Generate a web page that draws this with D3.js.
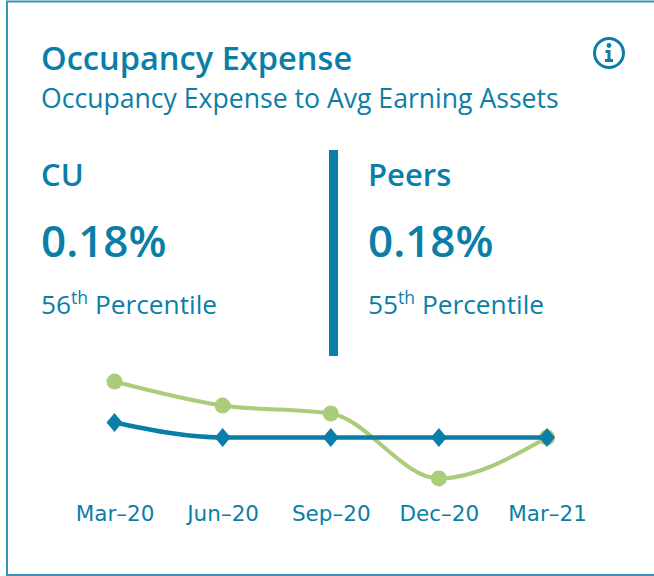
<!DOCTYPE html>
<html><head><meta charset="utf-8">
<script src="https://cdn.jsdelivr.net/npm/d3@7/dist/d3.min.js"></script>
<style>html,body{margin:0;padding:0;background:#fff;overflow:hidden}svg{display:block}</style>
</head><body><svg id="c" width="654" height="576"></svg>
<script>
const categories = ["Mar-20","Jun-20","Sep-20","Dec-20","Mar-21"];
const cuValues = [0.19,0.18,0.18,0.18,0.18];
const peerValues = [0.2173,0.2013,0.196,0.1527,0.18];
const title = "Occupancy Expense";
const subtitle = "Occupancy Expense to Avg Earning Assets";
const panels = [
 {name:"CU", value:"0.18%", rank:"56", suffix:"th", label:" Percentile", x:41},
 {name:"Peers", value:"0.18%", rank:"55", suffix:"th", label:" Percentile", x:368}
];
const blue="#0b7ea8", green="#a9cd7a", font="'Open Sans','Noto Sans',sans-serif";
const svg=d3.select("#c");
svg.append("rect").attr("x",7).attr("y",1.5).attr("width",700).attr("height",573.5)
  .attr("fill","none").attr("stroke","#3a94b8").attr("stroke-width",2);
const t=(x,y,s,size,w)=>svg.append("text").attr("x",x).attr("y",y).text(s)
  .attr("font-family",font).attr("font-size",size).attr("font-weight",w||400).attr("fill",blue);
t(41,70,title,32.6,600);
t(41,108,subtitle,26.6);
panels.forEach(p=>{
  t(p.x,186,p.name,31,600);
  t(p.x,257,p.value,44,600);
  const r=t(p.x,314,"",26.3);
  r.append("tspan").text(p.rank);
  r.append("tspan").text(p.suffix).attr("font-size",17.5).attr("dy",-10);
  r.append("tspan").text(p.label).attr("dy",10);
});
svg.append("rect").attr("x",329).attr("y",150).attr("width",9).attr("height",206).attr("fill",blue);
// info icon
const ic=svg.append("g").attr("transform","translate(609,53)");
ic.append("circle").attr("r",14.5).attr("fill","none").attr("stroke",blue).attr("stroke-width",3);
ic.append("circle").attr("cy",-7.5).attr("r",2.4).attr("fill",blue);
ic.append("path").attr("d","M-3.5,-3H1.5V6H4V9H-4V6H-1.5V0H-3.5Z").attr("fill",blue);
// chart
const x=d3.scalePoint().domain(categories).range([114.5,547]);
const y=d3.scaleLinear().domain([0.18,0.19]).range([437.5,422.5]);
const line=d3.line().x((d,i)=>x(categories[i])).y(d=>y(d)).curve(d3.curveMonotoneX);
svg.append("path").attr("d",line(peerValues)).attr("fill","none").attr("stroke",green).attr("stroke-width",4);
svg.append("g").selectAll("circle").data(peerValues).join("circle")
  .attr("cx",(d,i)=>x(categories[i])).attr("cy",d=>y(d)).attr("r",8).attr("fill",green);
svg.append("path").attr("d",line(cuValues)).attr("fill","none").attr("stroke",blue).attr("stroke-width",4.5);
svg.append("g").selectAll("path").data(cuValues).join("path")
  .attr("transform",(d,i)=>`translate(${x(categories[i])},${y(d)})`)
  .attr("d","M0,-9.5L8,0L0,9.5L-8,0Z").attr("fill",blue);
const ax=svg.append("g").attr("transform","translate(0,521)")
  .call(d3.axisBottom(x).tickSize(0).tickPadding(0).tickFormat(d=>d.replace("-","\u2013")));
ax.select(".domain").remove();
ax.selectAll("text").attr("dy",0).attr("y",0).attr("fill",blue)
  .attr("font-family","'DejaVu Sans',sans-serif").attr("font-size",21.5);
</script></body></html>
